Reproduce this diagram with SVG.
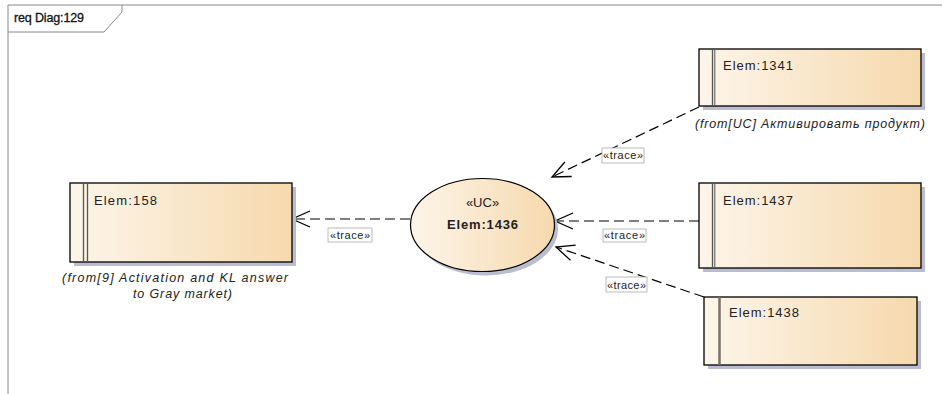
<svg xmlns="http://www.w3.org/2000/svg" width="942" height="394" viewBox="0 0 942 394">
<defs>
<linearGradient id="g" x1="0" y1="0" x2="1" y2="0">
<stop offset="0" stop-color="#fdf5ea"/>
<stop offset="1" stop-color="#f6d9ad"/>
</linearGradient>
<marker id="arr" markerWidth="22" markerHeight="20" refX="19" refY="9" orient="auto" markerUnits="userSpaceOnUse" viewBox="0 0 22 18">
<path d="M1,1 L19,9 L1,17" fill="none" stroke="#000" stroke-width="1.3"/>
</marker>
<style>
.box{fill:url(#g);stroke:#000;stroke-width:1.3}
.sh{fill:#b9bdcf}
.t{font-family:"Liberation Sans",Arial,sans-serif;font-size:13px;fill:#222}
.cap{font-family:"Liberation Sans",Arial,sans-serif;font-size:12.5px;font-style:italic;fill:#222}
.lbl{font-family:"Liberation Sans",Arial,sans-serif;font-size:11px;fill:#222}
.lb{fill:#fff;stroke:#aaa;stroke-width:0.8}
.c{fill:none;stroke:#000;stroke-width:1.2;stroke-dasharray:10,5}
</style>
</defs>
<rect width="942" height="394" fill="#fff"/>
<g id="frame">
<path d="M8,394 V5 H942" fill="none" stroke="#888" stroke-width="1"/>
<path d="M8,32 H104 L122,12 V5" fill="none" stroke="#888" stroke-width="1"/>
<text x="14" y="22" font-family="Liberation Sans,Arial,sans-serif" font-size="12.5" fill="#111" stroke="#111" stroke-width="0.3" textLength="70" lengthAdjust="spacing">req Diag:129</text>
</g>
<g id="connectors">
<line class="c" x1="410" y1="219" x2="292" y2="219" marker-end="url(#arr)"/>
<line class="c" x1="699" y1="107" x2="552" y2="177" marker-end="url(#arr)"/>
<line class="c" x1="699" y1="221" x2="555" y2="221" marker-end="url(#arr)"/>
<line class="c" x1="704" y1="297" x2="556" y2="247" marker-end="url(#arr)"/>
<rect class="lb" x="328" y="228" width="44" height="14"/>
<text class="lbl" x="330" y="239" textLength="40" lengthAdjust="spacing">«trace»</text>
<rect class="lb" x="602" y="148" width="42" height="15"/>
<text class="lbl" x="603" y="159" textLength="40" lengthAdjust="spacing">«trace»</text>
<rect class="lb" x="603" y="229" width="43" height="13"/>
<text class="lbl" x="604" y="239" textLength="41" lengthAdjust="spacing">«trace»</text>
<rect class="lb" x="606" y="277" width="41" height="15"/>
<text class="lbl" x="607" y="289" textLength="39" lengthAdjust="spacing">«trace»</text>
</g>
<g id="elem158">
<rect class="sh" x="74" y="187" width="222" height="79"/>
<rect class="box" x="70" y="183" width="222" height="79"/>
<line x1="83.5" y1="183" x2="83.5" y2="262" stroke="#555" stroke-width="1.3"/>
<line x1="87.5" y1="183" x2="87.5" y2="262" stroke="#555" stroke-width="1.3"/>
<text class="t" x="94" y="205" textLength="63" lengthAdjust="spacing">Elem:158</text>
<text class="cap" x="62" y="282" textLength="226" lengthAdjust="spacing">(from[9] Activation and KL answer</text>
<text class="cap" x="133" y="298" textLength="99" lengthAdjust="spacing">to Gray market)</text>
</g>
<g id="elem1436">
<ellipse cx="486" cy="229" rx="72" ry="46.5" fill="#b9bdcf"/>
<ellipse cx="482.5" cy="225" rx="72" ry="46.5" fill="url(#g)" stroke="#000" stroke-width="1.2"/>
<text class="t" x="482.5" y="207" text-anchor="middle" font-size="12">«UC»</text>
<text class="t" x="482.5" y="229" text-anchor="middle" font-weight="bold" textLength="71" lengthAdjust="spacing">Elem:1436</text>
</g>
<g id="elem1341">
<rect class="sh" x="703" y="53" width="222" height="57"/>
<rect class="box" x="699" y="49" width="222" height="57"/>
<line x1="712.5" y1="49" x2="712.5" y2="106" stroke="#555" stroke-width="1.3"/>
<line x1="714.8" y1="49" x2="714.8" y2="106" stroke="#555" stroke-width="1"/>
<text class="t" x="723" y="70" textLength="70" lengthAdjust="spacing">Elem:1341</text>
<text class="cap" x="695" y="128" textLength="230" lengthAdjust="spacing">(from[UC] Активировать продукт)</text>
</g>
<g id="elem1437">
<rect class="sh" x="703" y="187" width="222" height="85"/>
<rect class="box" x="699" y="183" width="222" height="85"/>
<line x1="712.5" y1="183" x2="712.5" y2="268" stroke="#555" stroke-width="1.3"/>
<line x1="714.8" y1="183" x2="714.8" y2="268" stroke="#555" stroke-width="1"/>
<text class="t" x="723" y="205" textLength="70" lengthAdjust="spacing">Elem:1437</text>
</g>
<g id="elem1438">
<rect class="sh" x="708" y="301" width="213" height="68"/>
<rect class="box" x="704" y="297" width="213" height="68"/>
<line x1="719.5" y1="297" x2="719.5" y2="365" stroke="#7a706a" stroke-width="2.5"/>
<text class="t" x="729" y="317" textLength="70" lengthAdjust="spacing">Elem:1438</text>
</g>
</svg>
